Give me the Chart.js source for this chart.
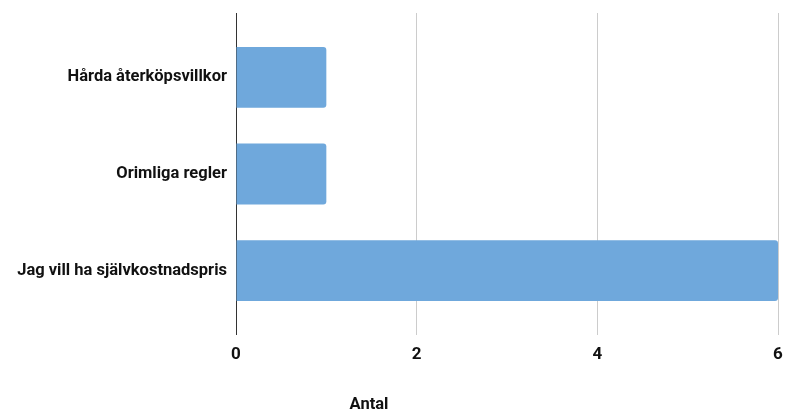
<!DOCTYPE html>
<html>
<head>
<meta charset="utf-8">
<script src="https://cdn.jsdelivr.net/npm/chart.js@4/dist/chart.umd.min.js"></script>
<style>
  html, body { margin: 0; padding: 0; background: #fff; }
  #wrap { width: 786px; height: 415px; }
</style>
</head>
<body>
<div id="wrap"><canvas id="c" width="786" height="415"></canvas></div>
<script>
const categories = ['Hårda återköpsvillkor', 'Orimliga regler', 'Jag vill ha självkostnadspris'];
const counts = [1, 1, 6];
const axisTicks = [0, 2, 4, 6];
const axisTitle = 'Antal';

const FONT = 'Roboto, "Noto Sans", sans-serif';
const gridColor = ctx => (ctx.tick && ctx.tick.value === 0) ? '#333333' : '#cccccc';

// Axis title sits left of the axis centre, drawn directly on the canvas
const titlePlugin = {
  id: 'axisTitle',
  afterDraw(chart) {
    const ctx = chart.ctx;
    ctx.save();
    ctx.font = 'bold 16.5px ' + FONT;
    ctx.fillStyle = '#111111';
    ctx.textAlign = 'center';
    ctx.textBaseline = 'middle';
    ctx.fillText(axisTitle, 369, 405);
    ctx.restore();
  }
};

// Keep the value axes flush with the layout padding on the right
const noSidePadding = s => { s.paddingRight = 0; s.paddingLeft = 0; };

new Chart(document.getElementById('c'), {
  type: 'bar',
  data: {
    labels: categories,
    datasets: [{
      data: counts,
      backgroundColor: '#6fa8dc',
      borderRadius: 3,
      borderSkipped: 'start',
      categoryPercentage: 1,
      barPercentage: 0.63
    }]
  },
  options: {
    indexAxis: 'y',
    responsive: false,
    animation: false,
    layout: { padding: { top: 13, right: 8, left: 0, bottom: 0 } },
    plugins: { legend: { display: false }, tooltip: { enabled: false } },
    scales: {
      x: {
        type: 'linear',
        position: 'bottom',
        min: 0,
        max: 6,
        afterBuildTicks: s => { s.ticks = axisTicks.map(v => ({ value: v })); },
        afterFit: s => { s.height = 96; noSidePadding(s); },
        grid: { color: gridColor, lineWidth: 1, drawTicks: true, tickLength: 16 },
        border: { display: false },
        ticks: {
          padding: 10,
          maxRotation: 0,
          color: '#111111',
          font: { family: FONT, size: 17, weight: 'bold' }
        }
      },
      xTop: {
        type: 'linear',
        position: 'top',
        min: 0,
        max: 6,
        afterBuildTicks: s => { s.ticks = axisTicks.map(v => ({ value: v })); },
        afterFit: noSidePadding,
        grid: { color: gridColor, lineWidth: 1, drawOnChartArea: false, drawTicks: true, tickLength: 16 },
        border: { display: false },
        ticks: { display: false }
      },
      y: {
        type: 'category',
        afterFit: s => { s.width = 236; },
        grid: { display: false, drawTicks: false },
        border: { display: false },
        ticks: {
          padding: 9,
          color: '#111111',
          font: { family: FONT, size: 16.5, weight: 'bold' }
        }
      }
    }
  },
  plugins: [titlePlugin]
});
</script>
</body>
</html>
